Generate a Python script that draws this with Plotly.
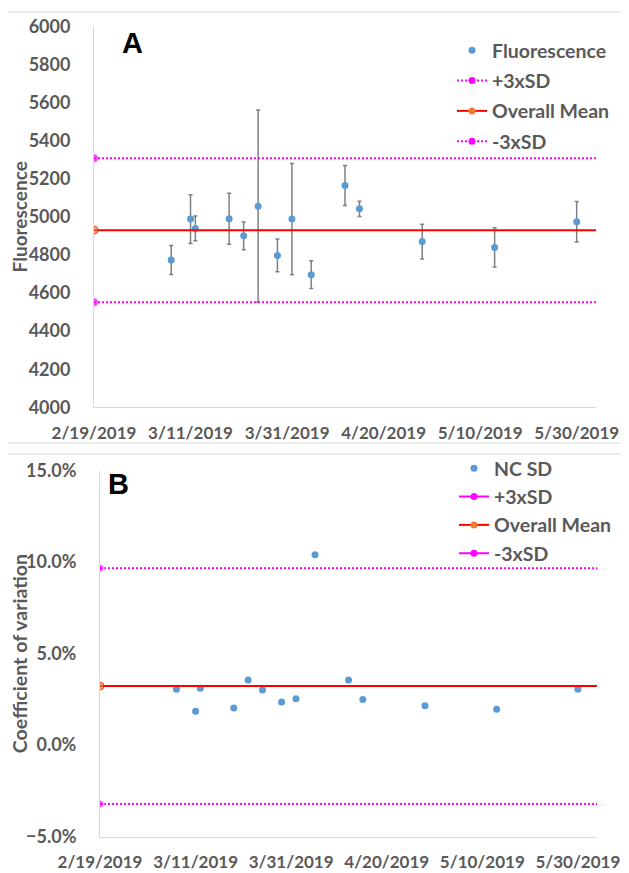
import plotly.graph_objects as go

# ---------------- data ----------------
dates = ['2019-03-07', '2019-03-11', '2019-03-12', '2019-03-19', '2019-03-22',
         '2019-03-25', '2019-03-29', '2019-04-01', '2019-04-05', '2019-04-12',
         '2019-04-15', '2019-04-28', '2019-05-13', '2019-05-30']
fluorescence = [4773, 4988, 4939, 4990, 4900, 5056, 4797, 4988, 4696, 5164,
                5042, 4870, 4839, 4974]
fluorescence_err = [76, 128, 65, 134, 73, 504, 86, 292, 73, 105, 40, 91, 103, 106]
nc_cv = [0.0304, 0.0184, 0.0310, 0.0202, 0.0355, 0.0301, 0.0235, 0.0253, 0.1040,
         0.0355, 0.0248, 0.0215, 0.0195, 0.0304]

limit_dates = ['2019-02-19', '2019-06-03']
fl_mean = [4930, 4930]
fl_plus3sd = [5308, 5308]
fl_minus3sd = [4552, 4552]
cv_mean = [0.0322, 0.0322]
cv_plus3sd = [0.0966, 0.0966]
cv_minus3sd = [-0.0322, -0.0322]

x_ticks = ['2019-02-19', '2019-03-11', '2019-03-31', '2019-04-20', '2019-05-10', '2019-05-30']
x_ticktext = ['2/19/2019', '3/11/2019', '3/31/2019', '4/20/2019', '5/10/2019', '5/30/2019']

# ---------------- style ----------------
OFF = 8                      # default page body margin
W, H = 629 - OFF, 873 - OFF
FONT = 'Lato'
GREY = '#595959'
AXIS = '#D9D9D9'
BLUE = '#5B9BD5'
MAG = '#FF00FF'
RED = '#FF0000'
ORANGE = '#ED7D31'
DOT = '2px,2px'


def fx(p):
    return (p - OFF) / W


def fy(p):
    return 1 - (p - OFF) / H


fig = go.Figure()

# ---------- Panel A ----------
fig.add_trace(go.Scatter(
    x=dates, y=fluorescence, mode='markers', name='Fluorescence',
    marker=dict(color=BLUE, size=7),
    error_y=dict(type='data', array=fluorescence_err, color='#808080', thickness=1.5, width=2),
    xaxis='x', yaxis='y', legend='legend', legendgroup='a1'))
for yv, nm, col, dash, mcol, grp in [
        (fl_plus3sd, '+3xSD', MAG, DOT, MAG, 'a2'),
        (fl_mean, 'Overall Mean', RED, 'solid', ORANGE, 'a3'),
        (fl_minus3sd, '-3xSD', MAG, DOT, MAG, 'a4')]:
    fig.add_trace(go.Scatter(
        x=limit_dates, y=yv, mode='lines+markers', name=nm, showlegend=False,
        line=dict(color=col, width=2, dash=dash),
        marker=dict(color=mcol, size=[8, 0], line=dict(color=col, width=1 if col == RED else 0)),
        xaxis='x', yaxis='y'))
    fig.add_trace(go.Scatter(
        x=[None], y=[None], mode='lines+markers', name=nm,
        line=dict(color=col, width=2, dash=dash),
        marker=dict(color=mcol, size=7),
        xaxis='x', yaxis='y', legend='legend', legendgroup=grp))

# ---------- Panel B ----------
fig.add_trace(go.Scatter(
    x=dates, y=nc_cv, mode='markers', name='NC SD',
    marker=dict(color=BLUE, size=7),
    xaxis='x2', yaxis='y2', legend='legend2', legendgroup='b1'))
for yv, nm, col, dash, mcol, grp in [
        (cv_plus3sd, '+3xSD', MAG, DOT, MAG, 'b2'),
        (cv_mean, 'Overall Mean', RED, 'solid', ORANGE, 'b3'),
        (cv_minus3sd, '-3xSD', MAG, DOT, MAG, 'b4')]:
    fig.add_trace(go.Scatter(
        x=limit_dates, y=yv, mode='lines+markers', name=nm, showlegend=False,
        line=dict(color=col, width=2, dash=dash),
        marker=dict(color=mcol, size=[8, 0]),
        xaxis='x2', yaxis='y2'))
    fig.add_trace(go.Scatter(
        x=[None], y=[None], mode='lines+markers', name=nm,
        line=dict(color=col, width=2),
        marker=dict(color=mcol, size=7),
        xaxis='x2', yaxis='y2', legend='legend2', legendgroup=grp))

ytickfont = dict(family=FONT, size=18, color=GREY, weight='bold')
xtickfont = dict(family=FONT, size=17, color=GREY, weight='bold')
legfont = dict(family=FONT, size=19.5, color=GREY, weight='bold')

xcommon = dict(type='date', range=[limit_dates[0], limit_dates[1]], automargin=False,
               tickvals=x_ticks, ticktext=x_ticktext, tickfont=xtickfont,
               showgrid=False, zeroline=False, showline=True, linecolor=AXIS, linewidth=1,
               ticks='', ticklabelstandoff=10, fixedrange=True)

fig.update_layout(
    width=W, height=H, margin=dict(l=0, r=0, t=0, b=0),
    paper_bgcolor='white', plot_bgcolor='white',
    showlegend=True,
    xaxis=dict(domain=[fx(94), fx(596)], anchor='y', **xcommon),
    yaxis=dict(domain=[fy(407.3), fy(26.3)], anchor='x', range=[4000, 6000], dtick=200,
               automargin=False,
               tickfont=ytickfont, showgrid=False, zeroline=False, showline=True,
               linecolor=AXIS, linewidth=1, ticks='', ticklabelstandoff=19,
               title=dict(text='Fluorescence', standoff=0,
                          font=dict(family=FONT, size=19, color=GREY, weight='bold'))),
    xaxis2=dict(domain=[fx(100), fx(597)], anchor='y2', **xcommon),
    yaxis2=dict(domain=[fy(836.5), fy(470.5)], anchor='x2', range=[-0.05, 0.15], dtick=0.05,
                automargin=False,
                tickformat='.1%', tickfont=ytickfont, showgrid=False, zeroline=False,
                showline=True, linecolor=AXIS, linewidth=1, ticks='', ticklabelstandoff=19,
                title=dict(text='Coefficient of variation', standoff=0,
                           font=dict(family=FONT, size=19.6, color=GREY, weight='bold'))),
    legend=dict(x=fx(452), y=fy(31), xanchor='left', yanchor='top', font=legfont,
                bgcolor='rgba(0,0,0,0)', itemwidth=30, tracegroupgap=2),
    legend2=dict(x=fx(454), y=fy(449), xanchor='left', yanchor='top', font=legfont,
                 bgcolor='rgba(0,0,0,0)', itemwidth=30, tracegroupgap=0),
    annotations=[
        dict(text='A', x=fx(132), y=fy(43), xref='paper', yref='paper', showarrow=False,
             xanchor='center', yanchor='middle',
             font=dict(family='Liberation Sans', size=29, color='black', weight='bold')),
        dict(text='B', x=fx(118.5), y=fy(484), xref='paper', yref='paper', showarrow=False,
             xanchor='center', yanchor='middle',
             font=dict(family='Liberation Sans', size=29, color='black', weight='bold')),
    ],
    shapes=[
        dict(type='line', xref='paper', yref='paper', x0=fx(7), x1=1, y0=fy(12), y1=fy(12),
             line=dict(color=AXIS, width=1)),
        dict(type='line', xref='paper', yref='paper', x0=fx(7), x1=1, y0=fy(443), y1=fy(443),
             line=dict(color=AXIS, width=1)),
        dict(type='line', xref='paper', yref='paper', x0=fx(7), x1=1, y0=fy(454), y1=fy(454),
             line=dict(color=AXIS, width=1)),
    ],
)

fig.write_html('out.html')
